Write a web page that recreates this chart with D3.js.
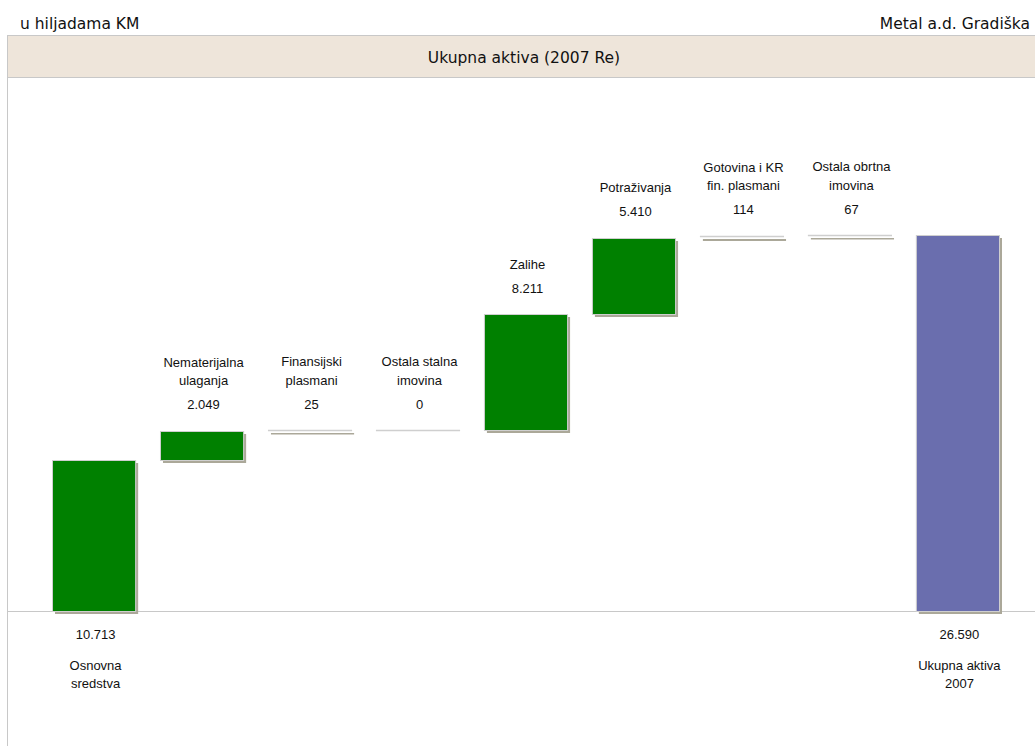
<!DOCTYPE html>
<html>
<head>
<meta charset="utf-8">
<script src="https://cdn.jsdelivr.net/npm/d3@7"></script>
<style>
  html, body { margin: 0; padding: 0; background: #fff; }
  svg { display: block; }
</style>
</head>
<body>
<svg id="chart" width="1035" height="746"></svg>
<script>
// ---- data ----
const categories = [
  ["Osnovna", "sredstva"],
  ["Nematerijalna", "ulaganja"],
  ["Finansijski", "plasmani"],
  ["Ostala stalna", "imovina"],
  ["Zalihe"],
  ["Potraživanja"],
  ["Gotovina i KR", "fin. plasmani"],
  ["Ostala obrtna", "imovina"],
  ["Ukupna aktiva", "2007"]
];
const values = [10713, 2049, 25, 0, 8211, 5410, 114, 67, 26590];
const barKinds = ["start", "step", "step", "step", "step", "step", "step", "step", "total"];
const headerLeft = "u hiljadama KM";
const headerRight = "Metal a.d. Gradiška";
const title = "Ukupna aktiva (2007 Re)";

// ---- setup ----
const W = 1035, H = 746;
const svg = d3.select("#chart");
const fmt = d3.formatLocale({ decimal: ",", thousands: ".", grouping: [3], currency: ["", ""] }).format(",d");

const LABEL_FONT = "'Liberation Sans', Arial, sans-serif";
const HEAD_FONT = "'DejaVu Sans', Tahoma, sans-serif";

// header texts
svg.append("text").attr("x", 20).attr("y", 29)
  .attr("font-family", HEAD_FONT).attr("font-size", 15.5).attr("fill", "#111")
  .text(headerLeft);
svg.append("text").attr("x", 1030).attr("y", 29).attr("text-anchor", "end")
  .attr("font-family", HEAD_FONT).attr("font-size", 15.5).attr("fill", "#111")
  .text(headerRight);

// title band
svg.append("rect").attr("x", 7.5).attr("y", 35.5).attr("width", 1035).attr("height", 42)
  .attr("fill", "#EEE5DA").attr("stroke", "#c8c8c8").attr("stroke-width", 1);
svg.append("text").attr("x", 524).attr("y", 63).attr("text-anchor", "middle")
  .attr("font-family", HEAD_FONT).attr("font-size", 15.5).attr("fill", "#111")
  .text(title);

// plot frame (left line)
svg.append("line").attr("x1", 7.5).attr("x2", 7.5).attr("y1", 78).attr("y2", H)
  .attr("stroke", "#c8c8c8").attr("stroke-width", 1);

// scales
const x = d3.scaleBand().domain(d3.range(values.length)).range([52, 999]).paddingInner(0.23).paddingOuter(0);
const y = d3.scaleLinear().domain([0, 26590]).range([611, 235]);

// waterfall segments
let run = 0;
const bars = values.map((v, i) => {
  let lo, hi;
  if (barKinds[i] === "total") { lo = 0; hi = v; }
  else if (barKinds[i] === "start") { lo = 0; hi = v; run = v; }
  else { lo = run; hi = run + v; run = hi; }
  return { i, v, lo, hi, kind: barKinds[i], name: categories[i] };
});

// baseline
svg.append("line").attr("x1", 7).attr("x2", W).attr("y1", y(0) + 0.5).attr("y2", y(0) + 0.5)
  .attr("stroke", "#c8c8c8").attr("stroke-width", 1);

const g = svg.append("g");
const SH = 3;
const pxH = d => Math.round(y(d.lo)) - Math.round(y(d.hi));
// shadows
g.selectAll("rect.shadow").data(bars.filter(d => d.v > 0)).join("rect")
  .attr("class", "shadow")
  .attr("x", d => x(d.i) + SH)
  .attr("y", d => Math.round(y(d.hi)) + SH)
  .attr("width", x.bandwidth())
  .attr("height", d => Math.max(pxH(d), 1.5))
  .attr("fill", "#aba899");
// bars with visible height
const tall = bars.filter(d => pxH(d) >= 3);
g.selectAll("rect.bar").data(tall).join("rect")
  .attr("class", "bar")
  .attr("x", d => x(d.i) + 0.5)
  .attr("y", d => Math.round(y(d.hi)) + 0.5)
  .attr("width", x.bandwidth())
  .attr("height", d => pxH(d))
  .attr("fill", d => d.kind === "total" ? "#6a6eae" : "#008000")
  .attr("stroke", "#cfcfcf").attr("stroke-width", 1);
// very thin bars drawn as their outline line
const thin = bars.filter(d => pxH(d) < 3);
g.selectAll("line.thin").data(thin).join("line")
  .attr("class", "thin")
  .attr("x1", d => x(d.i)).attr("x2", d => x(d.i) + x.bandwidth() + 1)
  .attr("y1", d => Math.round(y(d.hi)) + 0.5).attr("y2", d => Math.round(y(d.hi)) + 0.5)
  .attr("stroke", "#cfcfcf").attr("stroke-width", 1.5);

// labels
const lab = svg.append("g").attr("font-family", LABEL_FONT).attr("font-size", 13)
  .attr("fill", "#111").attr("text-anchor", "middle");
bars.forEach(d => {
  const cx = x(d.i) + x.bandwidth() / 2 + 2;
  if (d.kind === "step") {
    const top = y(d.hi);
    const vb = top - 21.5;
    lab.append("text").attr("x", cx).attr("y", vb).text(fmt(d.v));
    const n = d.name.length;
    d.name.forEach((line, k) => {
      lab.append("text").attr("x", cx).attr("y", vb - 24 - (n - 1 - k) * 18.5).text(line);
    });
  } else {
    lab.append("text").attr("x", cx).attr("y", 639).text(fmt(d.v));
    d.name.forEach((line, k) => {
      lab.append("text").attr("x", cx).attr("y", 670 + k * 18).text(line);
    });
  }
});
</script>
</body>
</html>
